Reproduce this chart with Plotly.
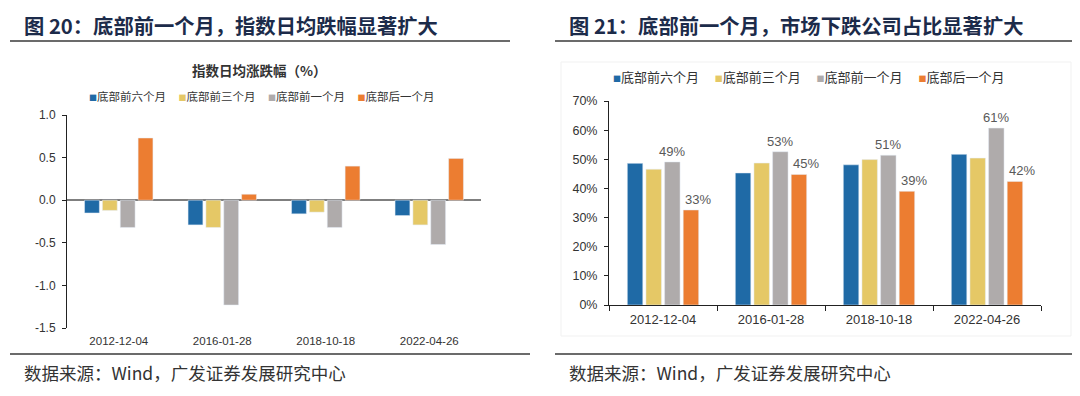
import plotly.graph_objects as go

# The page places the figure 8px from the top-left corner of the window,
# so the figure is sized to fit and reference pixel positions are shifted.
OFF = 8
W, H = 1080 - 2 * OFF, 396 - 2 * OFF

# ---------------- data ----------------
CATEGORIES = ["2012-12-04", "2016-01-28", "2018-10-18", "2022-04-26"]
SERIES = ["底部前六个月", "底部前三个月", "底部前一个月", "底部后一个月"]
COLORS = ["#1f6aa6", "#e5c866", "#afabab", "#ec7d31"]

# 指数日均涨跌幅（%）
LEFT_6M = [-0.15, -0.29, -0.16, -0.18]
LEFT_3M = [-0.12, -0.32, -0.14, -0.29]
LEFT_1M = [-0.32, -1.23, -0.32, -0.52]
LEFT_AFTER = [0.73, 0.07, 0.40, 0.49]

# 市场下跌公司占比（%）
RIGHT_6M = [48.6, 45.3, 48.1, 51.7]
RIGHT_3M = [46.6, 48.7, 49.9, 50.4]
RIGHT_1M = [49.1, 52.6, 51.4, 60.7]
RIGHT_AFTER = [32.6, 44.8, 39.0, 42.4]

LEFT_YTICKS = [-1.5, -1.0, -0.5, 0.0, 0.5, 1.0]
RIGHT_YTICKS = [0, 10, 20, 30, 40, 50, 60, 70]

TITLE_LEFT = "图 20：底部前一个月，指数日均跌幅显著扩大"
TITLE_RIGHT = "图 21：底部前一个月，市场下跌公司占比显著扩大"
SUBTITLE_LEFT = "指数日均涨跌幅（%）"
SOURCE = "数据来源：Wind，广发证券发展研究中心"

CJK = "Noto Sans CJK SC"
LAT = "Liberation Sans, Arial, sans-serif"


def px_x(p):
    return (p - OFF) / W


def px_y(p):
    return 1 - (p - OFF) / H


fig = go.Figure()

left_vals = [LEFT_6M, LEFT_3M, LEFT_1M, LEFT_AFTER]
right_vals = [RIGHT_6M, RIGHT_3M, RIGHT_1M, RIGHT_AFTER]

for name, col, vals in zip(SERIES, COLORS, left_vals):
    fig.add_trace(go.Bar(x=CATEGORIES, y=vals, marker_color=col, name=name,
                         showlegend=False, xaxis="x", yaxis="y"))

label_templates = [None, None, "%{y:.0f}%", "&nbsp;&nbsp;&nbsp;&nbsp;%{y:.0f}%"]
for name, col, vals, tpl in zip(SERIES, COLORS, right_vals, label_templates):
    fig.add_trace(go.Bar(
        x=CATEGORIES, y=vals, marker_color=col, name=name, showlegend=False,
        xaxis="x2", yaxis="y2",
        texttemplate=tpl,
        textposition="outside" if tpl else "none",
        textfont=dict(family=LAT, size=13, color="#595959"),
        constraintext="none",
        cliponaxis=False,
    ))


def lname(col, label):
    return f'<span style="color:{col};font-size:8px">■</span>{label}'


# legend entries (plus one empty spacer entry per legend so the last label is not clipped)
for leg, xa, ya in (("legend", "x", "y"), ("legend2", "x2", "y2")):
    for name, col in list(zip(SERIES, COLORS)) + [(" ", None)]:
        fig.add_trace(go.Scatter(x=[None], y=[None], mode="markers",
                                 marker=dict(color="rgba(0,0,0,0)", size=1),
                                 name=lname(col, name) if col else " ",
                                 legend=leg, xaxis=xa, yaxis=ya,
                                 hoverinfo="skip"))

axis_font = dict(family=LAT, size=12, color="#333333")

fig.update_layout(
    width=W, height=H, autosize=False,
    margin=dict(l=0, r=0, t=0, b=0, autoexpand=False),
    paper_bgcolor="white", plot_bgcolor="white",
    barmode="group", bargap=0.31, bargroupgap=0.17,
    xaxis=dict(domain=[px_x(67), px_x(481)], type="category",
               showline=False, ticks="", showgrid=False, zeroline=False,
               tickfont=dict(family=LAT, size=11.5, color="#333333"),
               ticklabelstandoff=4, anchor="y", fixedrange=True),
    yaxis=dict(domain=[px_y(328), px_y(115)], range=[-1.5, 1.0],
               tickmode="array", tickvals=LEFT_YTICKS,
               ticktext=[f"{v:.1f}" for v in LEFT_YTICKS],
               showline=True, linecolor="#222222", linewidth=1,
               ticks="outside", ticklen=4, tickcolor="#222222",
               ticklabelstandoff=4,
               showgrid=False, zeroline=True, zerolinecolor="#7f7f7f",
               zerolinewidth=1.5, tickfont=axis_font, anchor="x"),
    xaxis2=dict(domain=[px_x(609), px_x(1041)], type="category",
                showline=True, linecolor="#222222", linewidth=1,
                ticks="outside", ticklen=5, tickcolor="#222222",
                tickson="boundaries", showgrid=False, zeroline=False,
                tickfont=dict(family=LAT, size=13, color="#333333"),
                ticklabelstandoff=2, anchor="y2"),
    yaxis2=dict(domain=[px_y(305), px_y(101)], range=[0, 70],
                tickmode="array", tickvals=RIGHT_YTICKS,
                ticktext=[f"{v}%" for v in RIGHT_YTICKS],
                showline=True, linecolor="#222222", linewidth=1,
                ticks="outside", ticklen=4, tickcolor="#222222",
                ticklabelstandoff=4,
                showgrid=False, zeroline=False,
                tickfont=dict(family=LAT, size=12.5, color="#333333"),
                anchor="x2"),
    legend=dict(orientation="h", x=px_x(49), y=px_y(96), xanchor="left",
                yanchor="middle", entrywidth=44.5, entrywidthmode="pixels",
                font=dict(family=CJK, size=11.5, color="#333333"),
                bgcolor="rgba(0,0,0,0)", itemclick=False, itemdoubleclick=False),
    legend2=dict(orientation="h", x=px_x(573), y=px_y(77), xanchor="left",
                 yanchor="middle", entrywidth=56.8, entrywidthmode="pixels",
                 font=dict(family=CJK, size=13, color="#333333"),
                 bgcolor="rgba(0,0,0,0)", itemclick=False, itemdoubleclick=False),
)

annotations = [
    dict(text=f"<b>{TITLE_LEFT}</b>", x=px_x(22), y=px_y(25), xanchor="left",
         yanchor="middle", font=dict(family=CJK, size=20.3, color="#1c2b4a")),
    dict(text=f"<b>{TITLE_RIGHT}</b>", x=px_x(567), y=px_y(25), xanchor="left",
         yanchor="middle", font=dict(family=CJK, size=20.3, color="#1c2b4a")),
    dict(text=f"<b>{SUBTITLE_LEFT}</b>", x=px_x(259), y=px_y(70), xanchor="center",
         yanchor="middle", font=dict(family=CJK, size=13.5, color="#333333")),
    dict(text=SOURCE, x=px_x(22), y=px_y(372), xanchor="left",
         yanchor="middle", font=dict(family=CJK, size=17.5, color="#333333")),
    dict(text=SOURCE, x=px_x(567), y=px_y(372), xanchor="left",
         yanchor="middle", font=dict(family=CJK, size=17.5, color="#333333")),
]
for a in annotations:
    a.update(xref="paper", yref="paper", showarrow=False)
fig.update_layout(annotations=annotations)

shapes = [
    dict(type="line", x0=px_x(10), x1=px_x(510), y0=px_y(41), y1=px_y(41),
         line=dict(color="#3a3a3a", width=1.5)),
    dict(type="line", x0=px_x(555), x1=px_x(1072), y0=px_y(41), y1=px_y(41),
         line=dict(color="#3a3a3a", width=1.5)),
    dict(type="line", x0=px_x(10), x1=px_x(530), y0=px_y(354), y1=px_y(354),
         line=dict(color="#3a3a3a", width=1.5)),
    dict(type="line", x0=px_x(555), x1=px_x(1072), y0=px_y(354), y1=px_y(354),
         line=dict(color="#3a3a3a", width=1.5)),
    dict(type="rect", x0=px_x(561), x1=px_x(1071), y0=px_y(336), y1=px_y(62),
         line=dict(color="#f1f1f1", width=1)),
]
for s in shapes:
    s.update(xref="paper", yref="paper", layer="below")
fig.update_layout(shapes=shapes)

fig.write_html("out.html")
